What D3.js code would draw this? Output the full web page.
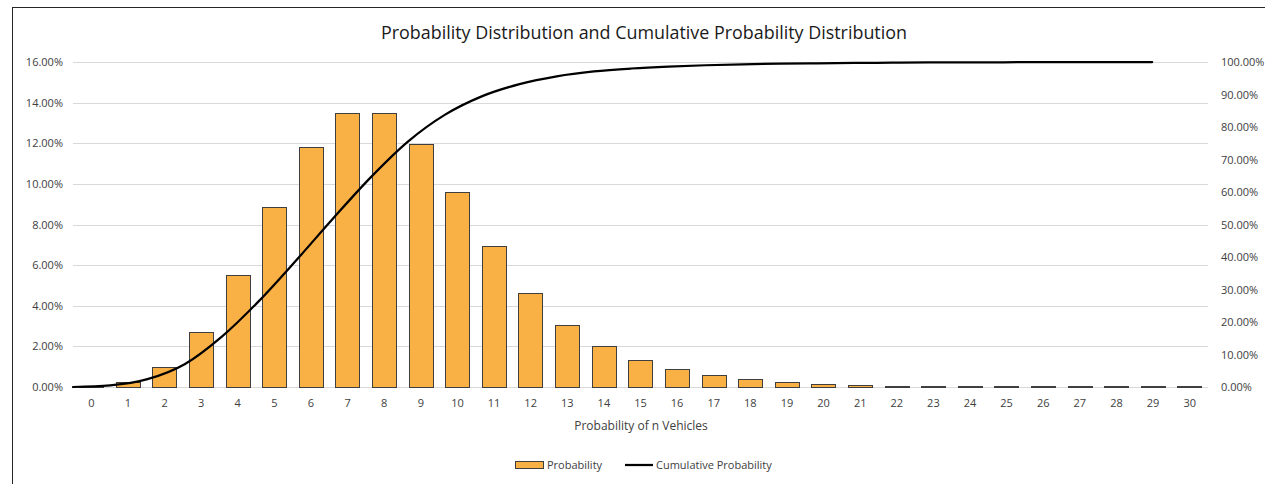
<!DOCTYPE html>
<html>
<head>
<meta charset="utf-8">
<script src="https://cdn.jsdelivr.net/npm/d3@7"></script>
<style>
  html, body { margin: 0; padding: 0; background: #fff; }
  svg { display: block; font-family: "Open Sans", "Noto Sans", sans-serif; }
</style>
</head>
<body>
<svg id="chart" width="1265" height="484"></svg>
<script>
// ---- Data ----
const categories = [0,1,2,3,4,5,6,7,8,9,10,11,12,13,14,15,16,17,18,19,20,21,22,23,24,25,26,27,28,29,30];
const probability = [0.0003,0.0023,0.0100,0.0272,0.0550,0.0885,0.1180,0.1348,0.1348,0.1198,0.0959,0.0696,0.0463,0.0307,0.0203,0.0135,0.0089,0.0059,0.0038,0.0025,0.0016,0.0010,0.0006,0.0004,0.00025,0.00015,0.0001,0.00006,0.00004,0.00002,0.00001];
const cumulativeN = [0,1,2,3,4,5,6,7,8,9,10,11,12,13,14,15,16,17,18,19,20,21,22,23,24,25,26,27,28,29];
const cumulative = [0,0.005,0.024,0.070,0.155,0.265,0.390,0.520,0.645,0.755,0.838,0.895,0.932,0.956,0.971,0.980,0.986,0.990,0.993,0.995,0.996,0.997,0.998,0.9985,0.999,0.9992,0.9995,0.9997,0.9998,0.9999];
const leftTicks = [0,0.02,0.04,0.06,0.08,0.10,0.12,0.14,0.16];
const rightTicks = [0,0.1,0.2,0.3,0.4,0.5,0.6,0.7,0.8,0.9,1.0];
const titleText = "Probability Distribution and Cumulative Probability Distribution";
const xAxisTitle = "Probability of n Vehicles";
const legendLabels = ["Probability", "Cumulative Probability"];

// ---- Layout ----
const svg = d3.select("#chart");
const plot = { left: 73, right: 1208, top: 62, bottom: 387 };
const textColor = "#404040";
const barFill = "#F9B044";
const barStroke = "#3f3f3f";
const gridColor = "#d9d9d9";

// chart border
svg.append("rect")
  .attr("x", 12.5).attr("y", 7.5)
  .attr("width", 1300).attr("height", 600)
  .attr("fill", "none").attr("stroke", "#262626").attr("stroke-width", 1);

// scales
const x = d3.scaleBand()
  .domain(categories)
  .range([plot.left, plot.right])
  .paddingInner(1/3)
  .paddingOuter(1/6);
const xBandFull = d3.scaleBand().domain(categories).range([plot.left, plot.right]);
const xLine = d3.scaleLinear()
  .domain([0, 30.5])
  .range([plot.left, plot.right]);
const yLeft = d3.scaleLinear().domain([0, 0.16]).range([plot.bottom, plot.top]);
const yRight = d3.scaleLinear().domain([0, 1]).range([plot.bottom, plot.top]);

// gridlines
svg.append("g")
  .selectAll("line")
  .data(leftTicks)
  .join("line")
  .attr("x1", plot.left).attr("x2", plot.right)
  .attr("y1", d => Math.round(yLeft(d)) + 0.5)
  .attr("y2", d => Math.round(yLeft(d)) + 0.5)
  .attr("stroke", gridColor).attr("stroke-width", 1);

// left axis
const fmt = d3.format(".2%");
const leftAxis = d3.axisLeft(yLeft).tickValues(leftTicks).tickFormat(fmt).tickSize(0).tickPadding(0);
const gL = svg.append("g").attr("transform", `translate(${plot.left - 10},0)`).call(leftAxis);
gL.select(".domain").remove();
gL.selectAll("text").attr("fill", textColor).style("font-size", "11px").style("font-family", "'Open Sans', sans-serif");

// right axis
const rightAxis = d3.axisRight(yRight).tickValues(rightTicks).tickFormat(fmt).tickSize(0).tickPadding(0);
const gR = svg.append("g").attr("transform", `translate(${plot.right + 13},0)`).call(rightAxis);
gR.select(".domain").remove();
gR.selectAll("text").attr("fill", textColor).style("font-size", "11px").style("font-family", "'Open Sans', sans-serif");

// bottom axis
const bottomAxis = d3.axisBottom(xBandFull).tickSize(0).tickPadding(0);
const gB = svg.append("g").attr("transform", `translate(0,${plot.bottom + 12})`).call(bottomAxis);
gB.select(".domain").remove();
gB.selectAll("text").attr("fill", textColor).style("font-size", "11px").style("font-family", "'Open Sans', sans-serif");

// bars
svg.append("g")
  .selectAll("rect")
  .data(probability)
  .join("rect")
  .attr("x", (d, i) => Math.round(x(categories[i])) + 0.5)
  .attr("y", d => Math.min(Math.round(yLeft(d)), Math.round(yLeft(0)) - 1) + 0.5)
  .attr("width", Math.round(x.bandwidth()))
  .attr("height", d => Math.max(1, Math.round(yLeft(0)) - Math.round(yLeft(d))))
  .attr("fill", barFill)
  .attr("stroke", barStroke)
  .attr("stroke-width", 1);

// cumulative line
const line = d3.line()
  .x((d, i) => xLine(cumulativeN[i]))
  .y(d => yRight(d))
  .curve(d3.curveMonotoneX);
svg.append("path")
  .datum(cumulative)
  .attr("d", line)
  .attr("fill", "none")
  .attr("stroke", "#000")
  .attr("stroke-width", 2.25)
  .attr("stroke-linecap", "round");

// title
svg.append("text")
  .attr("x", 644).attr("y", 39)
  .attr("text-anchor", "middle")
  .attr("fill", "#1a1a1a")
  .style("font-size", "18px")
  .attr("textLength", 526)
  .attr("lengthAdjust", "spacingAndGlyphs")
  .text(titleText);

// x axis title
svg.append("text")
  .attr("x", 641).attr("y", 430)
  .attr("text-anchor", "middle")
  .attr("fill", textColor)
  .style("font-size", "12px")
  .text(xAxisTitle);

// legend
const lg = svg.append("g");
lg.append("rect")
  .attr("x", 515.5).attr("y", 461.5).attr("width", 28).attr("height", 7)
  .attr("fill", barFill).attr("stroke", barStroke).attr("stroke-width", 1);
lg.append("text")
  .attr("x", 547).attr("y", 469)
  .attr("fill", textColor).style("font-size", "11px")
  .text(legendLabels[0]);
lg.append("line")
  .attr("x1", 625).attr("x2", 653).attr("y1", 465).attr("y2", 465)
  .attr("stroke", "#000").attr("stroke-width", 2.25);
lg.append("text")
  .attr("x", 656).attr("y", 469)
  .attr("fill", textColor).style("font-size", "11px")
  .text(legendLabels[1]);
</script>
</body>
</html>
